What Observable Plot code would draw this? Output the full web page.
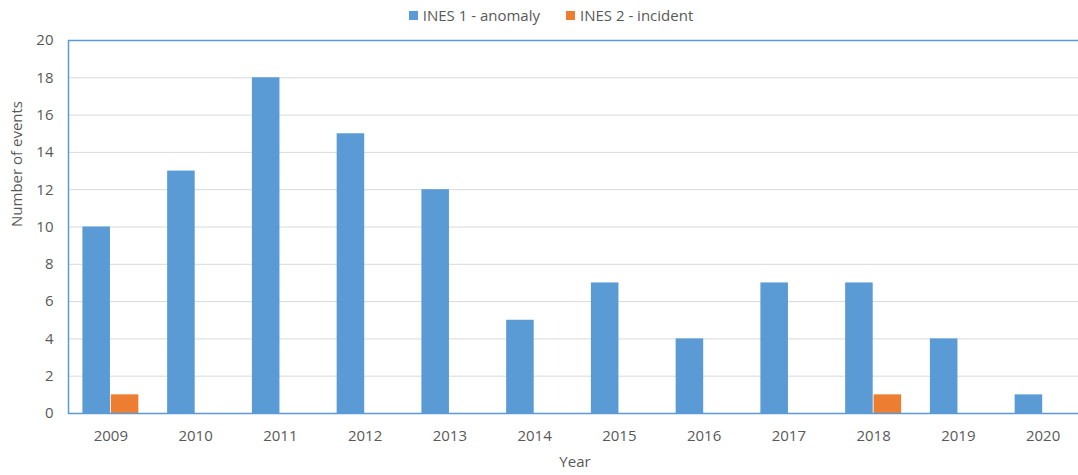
<!DOCTYPE html>
<html>
<head>
<meta charset="utf-8">
<script src="https://cdn.jsdelivr.net/npm/d3@7"></script>
<script src="https://cdn.jsdelivr.net/npm/@observablehq/plot@0.6"></script>
<style>
  html, body { margin: 0; padding: 0; background: #fff; overflow: hidden; }
  #wrap { width: 1078px; height: 475px; overflow: hidden; font-family: "Open Sans", sans-serif; color: #595959; }
  #legend { width: 1078px; height: 30px; display: flex; justify-content: center; align-items: center; font-size: 15px; gap: 26px; padding-left: 24px; box-sizing: border-box; }
  #legend span.sw { display: inline-block; width: 9px; height: 9px; margin-right: 5px; vertical-align: middle; position: relative; top: -1px; }
  #chart { width: 1085px; height: 445px; }
  #chart svg { max-width: none !important; display: block; }
</style>
</head>
<body>
<div id="wrap">
  <div id="legend"></div>
  <div id="chart"></div>
</div>
<script>
const years = ["2009","2010","2011","2012","2013","2014","2015","2016","2017","2018","2019","2020"];
const ines1 = [10, 13, 18, 15, 12, 5, 7, 4, 7, 7, 4, 1];
const ines2 = [1, 0, 0, 0, 0, 0, 0, 0, 0, 1, 0, 0];
const seriesNames = ["INES 1 - anomaly", "INES 2 - incident"];
const seriesColors = ["#5B9BD5", "#ED7D31"];
const yTicks = [0, 2, 4, 6, 8, 10, 12, 14, 16, 18, 20];
const xTitle = "Year";
const yTitle = "Number of events";

const legend = document.getElementById("legend");
seriesNames.forEach((n, i) => {
  const d = document.createElement("div");
  d.innerHTML = `<span class="sw" style="background:${seriesColors[i]}"></span>${n}`;
  legend.appendChild(d);
});

const d1 = years.map((y, i) => ({year: y, value: ines1[i]}));
const d2 = years.map((y, i) => ({year: y, value: ines2[i]})).filter(d => d.value > 0);

const chart = Plot.plot({
  width: 1085,
  height: 445,
  marginLeft: 68,
  marginRight: 0,
  marginTop: 10,
  marginBottom: 62,
  style: {fontFamily: "'Open Sans', sans-serif", fontSize: "15px", color: "#595959", background: "white", maxWidth: "none"},
  x: {domain: years, padding: 0, round: false, label: null},
  y: {domain: [0, 20], label: null},
  marks: [
    Plot.gridY(yTicks, {stroke: "#d9d9d9", strokeOpacity: 1, strokeWidth: 1}),
    Plot.axisX({tickSize: 0, tickPadding: 17, label: null}),
    Plot.axisY(yTicks, {tickSize: 0, tickPadding: 15, label: null}),
    Plot.barY(d1, {x: "year", y: "value", fill: seriesColors[0], insetLeft: 14.4, insetRight: 42.8}),
    Plot.barY(d2, {x: "year", y: "value", fill: seriesColors[1], insetLeft: 42.8, insetRight: 14.4}),
    Plot.frame({stroke: seriesColors[0], strokeWidth: 1.5}),
    Plot.text([xTitle], {frameAnchor: "bottom", dy: 53, dx: -2, fill: "#595959", fontSize: 15}),
    Plot.text([yTitle], {frameAnchor: "left", dx: -51, rotate: -90, fill: "#595959", fontSize: 15})
  ]
});
document.getElementById("chart").appendChild(chart);
</script>
</body>
</html>
